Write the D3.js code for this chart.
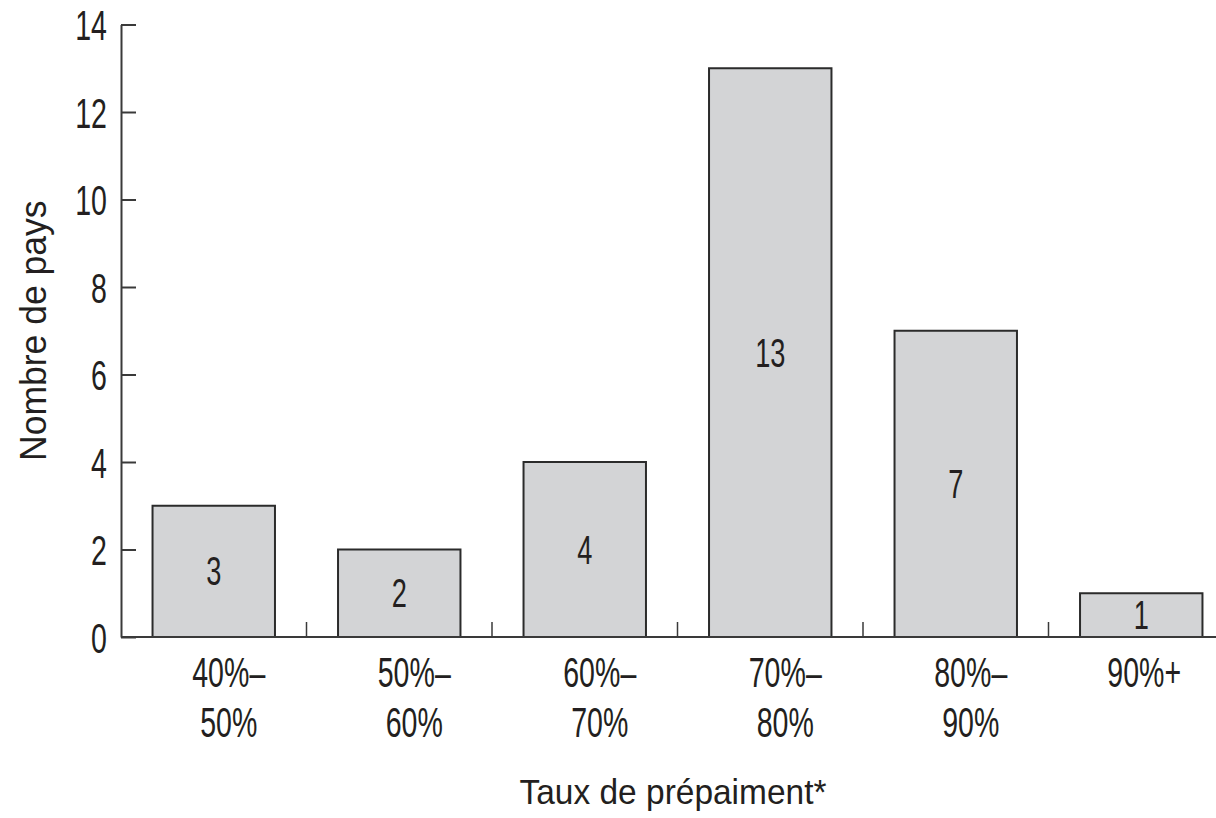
<!DOCTYPE html>
<html>
<head>
<meta charset="utf-8">
<script src="https://cdn.jsdelivr.net/npm/d3@7"></script>
<style>
  body { margin: 0; background: #fff; }
  svg text { font-family: 'Liberation Sans', Arial, sans-serif; fill: #231f20; }
</style>
</head>
<body>
<svg id="chart" width="1216" height="818"></svg>
<script>
// categories (two-line tick labels) and number of countries
const categories = ['40-50', '50-60', '60-70', '70-80', '80-90', '90+'];
const tickLines = [['40%–', '50%'], ['50%–', '60%'], ['60%–', '70%'], ['70%–', '80%'], ['80%–', '90%'], ['90%+']];
const counts = [3, 2, 4, 13, 7, 1];
const yTicks = [0, 2, 4, 6, 8, 10, 12, 14];

const yTitle = 'Nombre de pays';
const xTitle = 'Taux de prépaiment*';

const svg = d3.select('#chart');

// the original uses a condensed face; squeeze a regular one horizontally
const tickSize = 42, tickSquash = 0.68;
const valueSize = 40, valueSquash = 0.68;

// scales
const x = d3.scaleBand()
  .domain(categories)
  .range([121, 1234])
  .paddingInner(0.34)
  .paddingOuter(0.17);

const y = d3.scaleLinear().domain([0, 14]).range([637, 24.5]);

// bars
svg.append('g')
  .selectAll('rect')
  .data(counts)
  .join('rect')
  .attr('x', (d, i) => x(categories[i]))
  .attr('y', d => y(d))
  .attr('width', x.bandwidth())
  .attr('height', d => y(0) - y(d))
  .attr('fill', '#d3d4d6')
  .attr('stroke', '#2b2b2b')
  .attr('stroke-width', 2);

// value labels inside bars
svg.append('g')
  .selectAll('text')
  .data(counts)
  .join('text')
  .attr('transform', (d, i) =>
    `translate(${x(categories[i]) + x.bandwidth() / 2},${(y(d) + y(0)) / 2 + 14}) scale(${valueSquash},1)`)
  .attr('text-anchor', 'middle')
  .attr('font-size', valueSize)
  .text(d => d);

// y axis (ticks pointing inward)
const yAxis = svg.append('g')
  .attr('transform', 'translate(121,0)')
  .call(d3.axisLeft(y).tickValues(yTicks).tickSize(-15).tickSizeOuter(0).tickPadding(14));
yAxis.select('.domain').attr('stroke', '#3a3a3a').attr('stroke-width', 2);
yAxis.selectAll('.tick line').attr('stroke', '#3a3a3a').attr('stroke-width', 2);
yAxis.selectAll('.tick text')
  .attr('x', null)
  .attr('dy', null)
  .attr('transform', `translate(-14,15) scale(${tickSquash},1)`)
  .attr('font-size', tickSize)
  .attr('fill', '#231f20');

// x axis baseline
svg.append('line')
  .attr('x1', 121).attr('x2', 1216)
  .attr('y1', y(0)).attr('y2', y(0))
  .attr('stroke', '#3a3a3a')
  .attr('stroke-width', 2);

// small separators between categories
svg.append('g')
  .selectAll('line')
  .data(categories.slice(1))
  .join('line')
  .attr('x1', d => x(d) - x.step() * x.paddingInner() / 2)
  .attr('x2', d => x(d) - x.step() * x.paddingInner() / 2)
  .attr('y1', y(0) - 15)
  .attr('y2', y(0))
  .attr('stroke', '#3a3a3a')
  .attr('stroke-width', 1.5);

// x tick labels
const xAxis = svg.append('g')
  .attr('transform', `translate(0,${y(0)})`)
  .call(d3.axisBottom(x).tickSize(0).tickFormat(''));
xAxis.select('.domain').remove();
xAxis.selectAll('.tick').each(function (d, i) {
  const lines = tickLines[i];
  const t = d3.select(this).append('text')
    .attr('text-anchor', 'middle')
    .attr('font-size', tickSize)
    .attr('transform', `translate(${lines.length > 1 ? 15 : 3},50) scale(${tickSquash},1)`);
  lines.forEach((l, j) => {
    t.append('tspan')
      .attr('x', 0)
      .attr('y', j * 50)
      .text(l);
  });
});

// axis titles
svg.append('text')
  .attr('transform', `translate(46,${(y(0) + y(14)) / 2}) rotate(-90) scale(0.96,1)`)
  .attr('text-anchor', 'middle')
  .attr('font-size', 37)
  .text(yTitle);

svg.append('text')
  .attr('transform', 'translate(673,804) scale(0.93,1)')
  .attr('text-anchor', 'middle')
  .attr('font-size', 36)
  .text(xTitle);
</script>
</body>
</html>
